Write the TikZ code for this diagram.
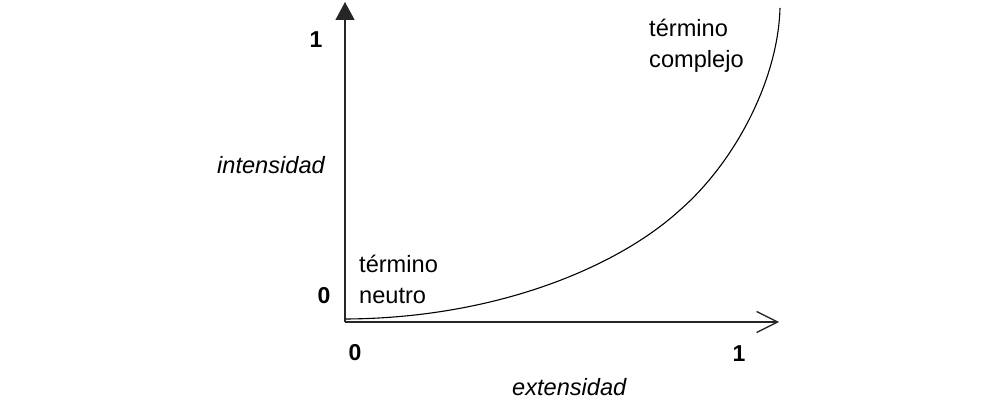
\documentclass[tikz,border=0pt]{standalone}
\usepackage{fontspec}
\setmainfont{Liberation Sans}
\usetikzlibrary{arrows.meta}
\tikzset{>=latex}
\tikzset{
  lbl/.style={font=\fontsize{23.6}{31.5}\selectfont, inner sep=0pt, anchor=base west},
  num/.style={font=\fontsize{23}{27}\selectfont\bfseries, inner sep=0pt, anchor=base},
  axis/.style={line width=1.3pt, draw=black!85},
}

\begin{document}
\begin{tikzpicture}[x=1pt,y=-1pt]
    \useasboundingbox (0,0) rectangle (1000,398);
    \coordinate (o) at (345,322);
    \coordinate (ytop) at (345,2);
    \coordinate (xend) at (779,322);
    \draw [axis,-{Triangle[length=18pt,width=19pt]}] (o) to (ytop);
    \draw [axis,-{Straight Barb[length=21pt,width=21pt]}] (o) to (xend);
    % curve
    \coordinate (c0) at (346,319);
    \coordinate (c1) at (680,210);
    \coordinate (c2) at (780,8);
    \draw [line width=1.1pt] (c0) .. controls (500,318) and (620,265) .. (c1)
      .. controls (735,162) and (778,80) .. (c2);
    \node at (316,48) [num] (y1) {1};
    \node at (324,303) [num] (y0) {0};
    \node at (355,360) [num] (x0) {0};
    \node at (739,361) [num] (x1) {1};
    \node at (217,173) [lbl,font=\fontsize{23.6}{27}\selectfont\itshape] (int) {intensidad};
    \node at (512,395) [lbl,font=\fontsize{23.6}{27}\selectfont\itshape] (ext) {extensidad};
    \node at (359,272) [lbl] (tn1) {término};
    \node at (359,303) [lbl] (tn2) {neutro};
    \node at (649,37) [lbl] (tc1) {término};
    \node at (649,68) [lbl] (tc2) {complejo};
  \end{tikzpicture}
\end{document}
